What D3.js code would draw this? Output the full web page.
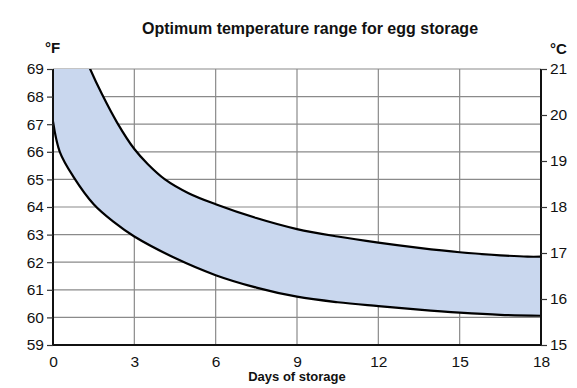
<!DOCTYPE html>
<html>
<head>
<meta charset="utf-8">
<script src="https://cdn.jsdelivr.net/npm/d3@7"></script>
<style>
  body { margin: 0; background: #fff; }
  svg { display: block; font-family: "Liberation Sans", Arial, sans-serif; }
</style>
</head>
<body>
<div class="main"></div>
<script>
// data: days of storage vs temperature (°F)
var upperDays  = [0, 0.7, 1.37, 1.8, 2.37, 3, 3.5, 4.13, 5, 6, 7.5, 9, 10.5, 12, 13.5, 15, 16.5, 17.5, 18];
var upperTemps = [72.4, 70.6, 69, 68.1, 67.05, 66.1, 65.55, 65, 64.5, 64.1, 63.6, 63.2, 62.93, 62.71, 62.52, 62.36, 62.25, 62.2, 62.2];
var lowerDays  = [0, 0.25, 0.75, 1.5, 2.25, 3, 4.5, 6, 7.5, 9, 10.5, 12, 13.5, 15, 16.5, 18];
var lowerTemps = [67.1, 66, 65.1, 64.1, 63.45, 62.93, 62.15, 61.53, 61.08, 60.75, 60.55, 60.41, 60.28, 60.17, 60.09, 60.06];
var dayTicks = [0, 3, 6, 9, 12, 15, 18];
var fTicks = [59, 60, 61, 62, 63, 64, 65, 66, 67, 68, 69];
var cTicks = [15, 16, 17, 18, 19, 20, 21];

var width = 577;
var height = 388;
var margin = {top: 69, right: 36, bottom: 43, left: 53};
var w = width - margin.left - margin.right;
var h = height - margin.top - margin.bottom;

var svg = d3.select(".main")
    .append("svg")
        .attr("width", width)
        .attr("height", height);

var xScale = d3.scaleLinear().domain([0, 18]).range([0, w]);
var yScale = d3.scaleLinear().domain([59, 69]).range([h, 0]);
var cScale = d3.scaleLinear().domain([15, 21]).range([h, 0]);

var g = svg.append("g")
    .attr("transform", "translate(" + margin.left + "," + margin.top + ")");

svg.append("defs").append("clipPath").attr("id", "clip")
    .append("rect").attr("width", w).attr("height", h);

// grid
g.append("g").selectAll("line")
    .data(fTicks.slice(1))
    .enter().append("line")
    .attr("x1", 0).attr("x2", w)
    .attr("y1", d => yScale(d)).attr("y2", d => yScale(d))
    .attr("stroke", "#8a8a8a").attr("stroke-width", 1.2);
g.append("g").selectAll("line")
    .data(dayTicks.slice(1, -1))
    .enter().append("line")
    .attr("y1", 0).attr("y2", h)
    .attr("x1", d => xScale(d)).attr("x2", d => xScale(d))
    .attr("stroke", "#8a8a8a").attr("stroke-width", 1.2);

// band between the two curves
var upper = upperDays.map((d, i) => [d, upperTemps[i]]);
var lower = lowerDays.map((d, i) => [d, lowerTemps[i]]);

var line = d3.line()
    .x(d => xScale(d[0]))
    .y(d => yScale(d[1]))
    .curve(d3.curveCatmullRom.alpha(0.5));

var bandPath = line(upper) + "L" + line(lower.slice().reverse()).slice(1) + "Z";

var plot = g.append("g").attr("clip-path", "url(#clip)");
plot.append("path")
    .attr("d", bandPath)
    .attr("fill", "#c9d7ee")
    .attr("stroke", "none");
plot.append("path")
    .attr("d", line(upper))
    .attr("fill", "none").attr("stroke", "#000").attr("stroke-width", 2.2);
plot.append("path")
    .attr("d", line(lower))
    .attr("fill", "none").attr("stroke", "#000").attr("stroke-width", 2.2);

// axes
var yAxis = d3.axisLeft(yScale).tickValues(fTicks).tickFormat(d3.format("d")).tickSize(6).tickPadding(3);
var cAxis = d3.axisRight(cScale).tickValues(cTicks).tickFormat(d3.format("d")).tickSize(6).tickPadding(3);
var xAxis = d3.axisBottom(xScale).tickValues(dayTicks).tickFormat(d3.format("d")).tickSize(0).tickPadding(11);

var yG = g.append("g").call(yAxis);
var cG = g.append("g").attr("transform", "translate(" + w + ",0)").call(cAxis);
var xG = g.append("g").attr("transform", "translate(0," + h + ")").call(xAxis);

[yG, cG, xG].forEach(a => {
    a.select(".domain").attr("stroke", "#111").attr("stroke-width", 2);
    a.selectAll(".tick line").attr("stroke", "#333").attr("stroke-width", 1.2);
    a.selectAll("text").attr("font-size", 15.5).attr("fill", "#111")
        .attr("font-family", "Liberation Sans, Arial, sans-serif");
});
xG.select(".domain").attr("d", "M0,0H" + w);
yG.select(".domain").attr("d", "M0," + h + "V0");
cG.select(".domain").attr("d", "M0," + h + "V0");

// titles
svg.append("text")
    .attr("x", 310).attr("y", 34)
    .attr("text-anchor", "middle")
    .attr("font-size", 16).attr("font-weight", "bold")
    .attr("fill", "#111")
    .text("Optimum temperature range for egg storage");
svg.append("text")
    .attr("x", margin.left + w / 2).attr("y", 381)
    .attr("text-anchor", "middle")
    .attr("font-size", 13).attr("font-weight", "bold")
    .attr("fill", "#111")
    .text("Days of storage");
svg.append("text")
    .attr("x", 45).attr("y", 53)
    .attr("font-size", 15).attr("font-weight", "bold")
    .attr("fill", "#111")
    .text("°F");
svg.append("text")
    .attr("x", 550).attr("y", 54)
    .attr("font-size", 15).attr("font-weight", "bold")
    .attr("fill", "#111")
    .text("°C");
</script>
</body>
</html>
